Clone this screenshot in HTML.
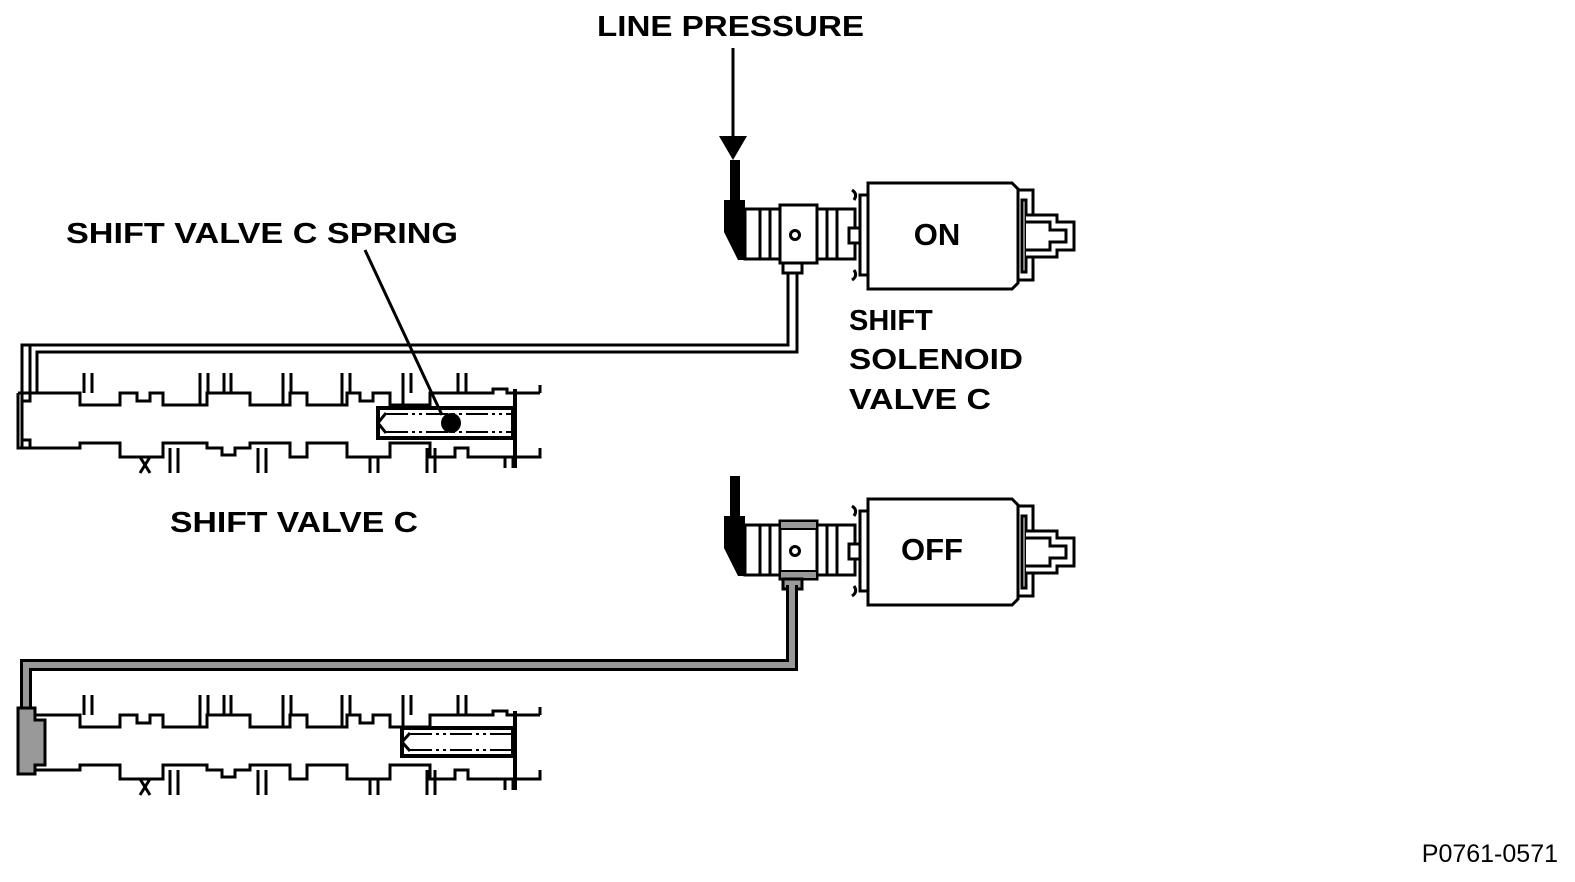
<!DOCTYPE html>
<html><head><meta charset="utf-8"><style>
html,body{margin:0;padding:0;background:#fff;width:1575px;height:882px;overflow:hidden}
svg{display:block}
text{font-family:"Liberation Sans",Arial,sans-serif;font-weight:bold;fill:#000}
</style></head><body>
<svg width="1575" height="882" viewBox="0 0 1575 882" xmlns="http://www.w3.org/2000/svg">
<defs>
<g id="valve" fill="none" stroke="#000" stroke-width="3">
  <polyline points="18,0 80,0 80,12 120,12 120,0 137,0 137,8 150,8 150,0 163,0 163,12 207,12 207,0 250,0 250,12 290,12 290,0 307,0 307,12 347,12 347,0 360,0 360,8 373,8 373,0 390,0 390,12 430,12 430,0 493,0 493,-4 507,-4 507,0 540,0"/>
  <polyline points="18,0 18,55 40,55"/>
  <path d="M84,0 V-20 M92,0 V-20 M200,12 V-20 M208,-20 V0 M224,0 V-20 M231,0 V-20 M283,12 V-20 M291,0 V-20 M342,12 V-20 M350,0 V-20 M403,12 V-20 M411,0 V-20 M458,0 V-20 M466,0 V-20 M540,0 V-8"/>
  <polyline points="40,55 80,55 80,50 120,50 120,64 163,64 163,50 207,50 207,55 222,55 222,62 235,62 235,55 250,55 250,50 290,50 290,64 307,64 307,50 347,50 347,64 390,64 390,50 430,50 430,64 455,64 455,55 468,55 468,64 540,64 540,55"/>
  <path d="M140,64 L150,80 M150,64 L140,80 M170,55 V80 M178,55 V80 M258,55 V80 M266,55 V80 M370,64 V80 M378,64 V80 M427,55 V80 M435,55 V80 M505,64 V75 M513,64 V75"/>
  <path d="M22,0 V55 M30,0 V8 H22 M30,55 V47 H22"/>
  <line x1="515" y1="-4" x2="515" y2="75" stroke-width="4"/>
</g>
<g id="sol" stroke="#000" stroke-width="3" fill="#fff">
  <polygon points="730,160 740,160 740,200 745,200 745,260 738,260 724,232 724,200 730,200" fill="#000" stroke="none"/>
  <rect x="745" y="209" width="110" height="50"/>
  <line x1="760" y1="209" x2="760" y2="259"/>
  <line x1="770" y1="209" x2="770" y2="259"/>
  <rect x="780" y="205" width="37" height="58"/>
  <circle cx="795" cy="235" r="4.5"/>
  <line x1="827" y1="209" x2="827" y2="259"/>
  <line x1="837" y1="209" x2="837" y2="259"/>
  <rect x="849" y="228" width="18" height="15"/>
  <rect x="860" y="195" width="8" height="80"/>
  <path d="M852,190 q6,4 2,10 M852,280 q6,-4 2,-10" fill="none"/>
  <path d="M868,183 H1012 L1018,189 V283 L1012,289 H868 Z"/>
  <rect x="1018" y="190" width="15" height="90"/>
  <rect x="1022" y="200" width="4" height="72"/>
  <polyline points="1026,215 1057,215 1057,222 1074,222 1074,250 1057,250 1057,257 1026,257"/>
  <polyline points="1026,222 1050,222 1050,230 1066,230 1066,242 1050,242 1050,250 1026,250" fill="none"/>
</g>
</defs>

<text x="597" y="36" font-size="29" textLength="267" lengthAdjust="spacingAndGlyphs">LINE PRESSURE</text>
<line x1="733" y1="48" x2="733" y2="140" stroke="#000" stroke-width="3"/>
<polygon points="719,136 747,136 733,160" fill="#000"/>

<use href="#sol"/>
<text x="937" y="245" font-size="31" text-anchor="middle">ON</text>
<path d="M783,263 H802 V273 H783 Z" fill="#fff" stroke="#000" stroke-width="3"/>
<path d="M788,273 V345 H30 V393 M797,273 V352 H37 V393" fill="none" stroke="#000" stroke-width="3"/>
<path d="M22,393 V345 H30" fill="none" stroke="#000" stroke-width="3"/>

<use href="#valve" transform="translate(0,393)"/>
<g stroke="#000" stroke-width="3" fill="none">
  <rect x="378" y="408" width="135" height="30" stroke-width="4"/>
  <polyline points="386,413 378,423 386,433" fill="#fff"/>
  <path d="M386,414 H513 M386,432 H513" stroke-dasharray="22,4,3,4,3,4" stroke-width="2"/>
</g>
<circle cx="451" cy="423" r="10" fill="#000"/>
<line x1="365" y1="250" x2="442" y2="415" stroke="#000" stroke-width="3"/>
<text x="66" y="243" font-size="29" textLength="392" lengthAdjust="spacingAndGlyphs">SHIFT VALVE C SPRING</text>

<text x="849" y="330" font-size="29">SHIFT</text>
<text x="849" y="369" font-size="29" textLength="174" lengthAdjust="spacingAndGlyphs">SOLENOID</text>
<text x="849" y="409" font-size="29" textLength="142" lengthAdjust="spacingAndGlyphs">VALVE C</text>
<text x="170" y="532" font-size="29" textLength="248" lengthAdjust="spacingAndGlyphs">SHIFT VALVE C</text>

<use href="#sol" transform="translate(0,316)"/>
<rect x="780" y="521" width="37" height="8" fill="#999" stroke="#000" stroke-width="2"/>
<rect x="780" y="571" width="37" height="8" fill="#999" stroke="#000" stroke-width="2"/>
<text x="932" y="560" font-size="31" text-anchor="middle">OFF</text>
<path d="M783,579 H802 V589 H783 Z" fill="#999" stroke="#000" stroke-width="3"/>
<path d="M792,585 V665 H26 V712" fill="none" stroke="#000" stroke-width="12"/>
<path d="M792,585 V665 H26 V712" fill="none" stroke="#999" stroke-width="6"/>

<use href="#valve" transform="translate(0,715)"/>
<path d="M18,708 H35 V720 H45 V765 H35 V774 H18 Z" fill="#999" stroke="#000" stroke-width="3"/>
<g stroke="#000" stroke-width="3" fill="none">
  <rect x="402" y="728" width="111" height="28" stroke-width="4"/>
  <polyline points="410,733 402,742 410,751" fill="#fff"/>
  <path d="M410,734 H513 M410,750 H513" stroke-dasharray="22,4,3,4,3,4" stroke-width="2"/>
</g>

<text x="1558" y="862" font-size="25" text-anchor="end" style="font-weight:normal">P0761-0571</text>
</svg>
</body></html>
